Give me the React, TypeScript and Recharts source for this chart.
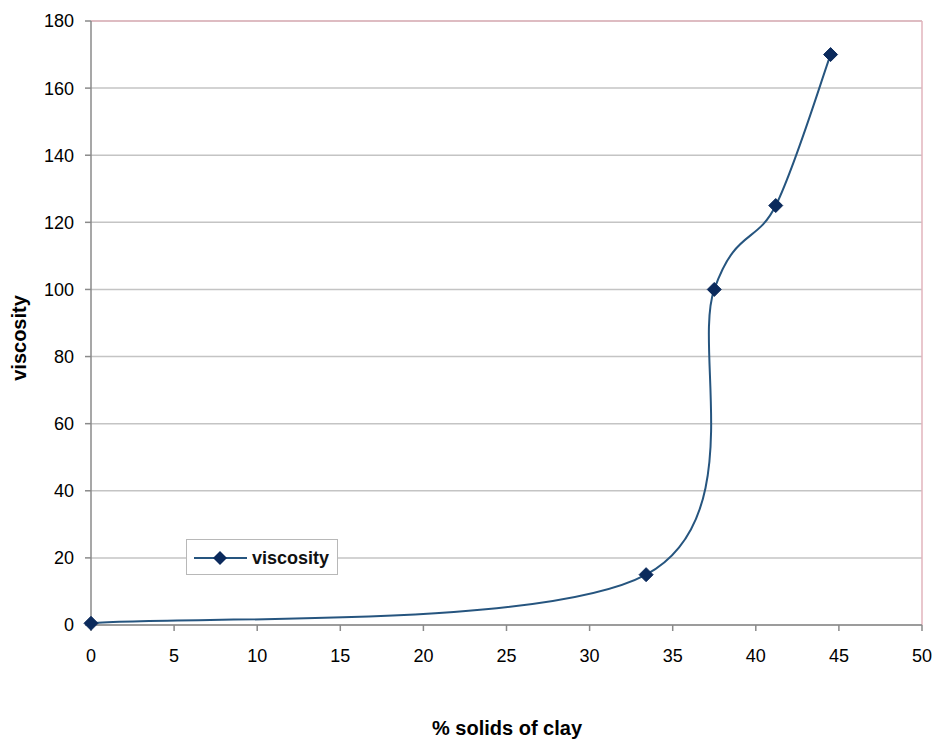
import React from "react";
import {
    CartesianGrid,
    Legend,
    Line,
    LineChart,
    ReferenceLine,
    XAxis,
    YAxis,
} from "recharts";

// % solids of clay vs viscosity
const solids = [0, 33.4, 37.5, 41.2, 44.5];
const viscosity = [0.5, 15, 100, 125, 170];

const xTicks = [0, 5, 10, 15, 20, 25, 30, 35, 40, 45, 50];
const yTicks = [0, 20, 40, 60, 80, 100, 120, 140, 160, 180];

const data = solids.map((s, i) => ({ solids: s, viscosity: viscosity[i] }));

const FONT = "'Liberation Sans', Arial, sans-serif";
const LINE_COLOR = "#26557f";
const MARKER_COLOR = "#0b2a5c";

/**
 * Spreadsheet-style smoothing: cubic Bezier segments whose control points
 * sit 1/6 of the neighbour chord away (uniform Catmull-Rom).
 */
function smoothCurve(context: any) {
    let pts: [number, number][] = [];
    return {
        areaStart() {},
        areaEnd() {},
        lineStart() {
            pts = [];
        },
        lineEnd() {
            const n = pts.length;
            if (!n) return;
            context.moveTo(pts[0][0], pts[0][1]);
            for (let i = 0; i < n - 1; i++) {
                const p0 = pts[Math.max(i - 1, 0)];
                const p1 = pts[i];
                const p2 = pts[i + 1];
                const p3 = pts[Math.min(i + 2, n - 1)];
                context.bezierCurveTo(
                    p1[0] + (p2[0] - p0[0]) / 6,
                    p1[1] + (p2[1] - p0[1]) / 6,
                    p2[0] - (p3[0] - p1[0]) / 6,
                    p2[1] - (p3[1] - p1[1]) / 6,
                    p2[0],
                    p2[1]
                );
            }
        },
        point(x: number, y: number) {
            pts.push([+x, +y]);
        },
    };
}

function Diamond(props: any) {
    const { cx, cy } = props;
    if (cx == null || cy == null) return null;
    const r = 7;
    return (
        <polygon
            points={`${cx},${cy - r} ${cx + r},${cy} ${cx},${cy + r} ${cx - r},${cy}`}
            fill={MARKER_COLOR}
            stroke={MARKER_COLOR}
            strokeWidth={1}
        />
    );
}

function LegendBox() {
    return (
        <svg width={152} height={36} style={{ display: "block" }}>
            <rect x={0.5} y={0.5} width={151} height={35} fill="#ffffff" stroke="#b8b8b8" strokeWidth={1} />
            <line x1={8} y1={19} x2={61} y2={19} stroke={LINE_COLOR} strokeWidth={2} />
            <polygon points="34,12 41,19 34,26 27,19" fill={MARKER_COLOR} />
            <text x={66} y={25} fontFamily={FONT} fontSize={18} fontWeight="bold" fill="#111">
                viscosity
            </text>
        </svg>
    );
}

function YTitle() {
    return (
        <text
            x={26}
            y={338}
            transform="rotate(-90 26 338)"
            textAnchor="middle"
            fontFamily={FONT}
            fontSize={20}
            fontWeight="bold"
            fill="#000"
        >
            viscosity
        </text>
    );
}

function XTitle() {
    return (
        <text
            x={507}
            y={735}
            textAnchor="middle"
            fontFamily={FONT}
            fontSize={20}
            fontWeight="bold"
            fill="#000"
        >
            % solids of clay
        </text>
    );
}

export default function App() {
    return (
        <div style={{ position: "absolute", left: 0, top: 0, width: 938, height: 740, background: "#fff" }}>
            <LineChart
                width={938}
                height={740}
                data={data}
                margin={{ top: 21, right: 16, left: 0, bottom: 0 }}
            >
                <CartesianGrid horizontal vertical={false} stroke="#c4c4c4" strokeWidth={1.5} />
                <ReferenceLine y={180} stroke="#e2b4bc" strokeWidth={1.5} />
                <ReferenceLine x={50} stroke="#e2b4bc" strokeWidth={1.5} />
                <XAxis
                    type="number"
                    dataKey="solids"
                    domain={[0, 50]}
                    ticks={xTicks}
                    interval={0}
                    height={79}
                    stroke="#8a8a8a"
                    strokeWidth={1.5}
                    tickSize={6}
                    tickMargin={18}
                    tick={{ fill: "#000", fontSize: 18, fontFamily: FONT }}
                    label={<XTitle />}
                />
                <YAxis
                    type="number"
                    domain={[0, 180]}
                    ticks={yTicks}
                    interval={0}
                    width={91}
                    stroke="#8a8a8a"
                    strokeWidth={1.5}
                    tickSize={6}
                    tickMargin={11}
                    tick={{ fill: "#000", fontSize: 18, fontFamily: FONT }}
                    label={<YTitle />}
                />
                <Legend
                    content={<LegendBox />}
                    wrapperStyle={{ position: "absolute", left: 186, top: 539, width: 152, height: 36 }}
                />
                <Line
                    dataKey="viscosity"
                    type={smoothCurve as any}
                    stroke={LINE_COLOR}
                    strokeWidth={2}
                    dot={<Diamond />}
                    activeDot={false}
                    isAnimationActive={false}
                />
            </LineChart>
        </div>
    );
}
